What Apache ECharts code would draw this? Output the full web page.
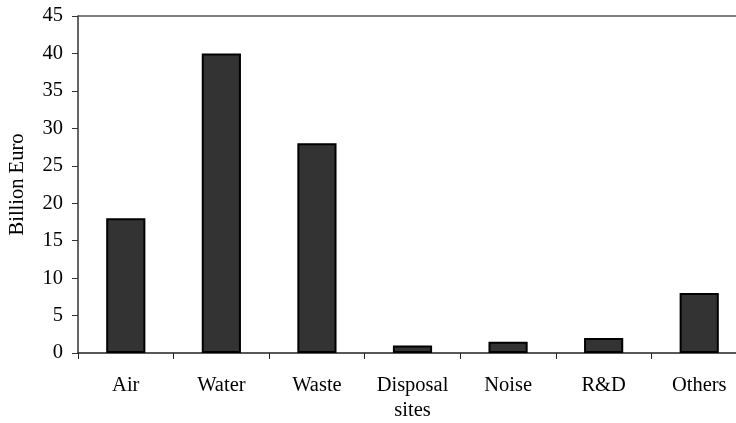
<!DOCTYPE html>
<html>
<head>
<meta charset="utf-8">
<script src="https://cdn.jsdelivr.net/npm/echarts@6/dist/echarts.min.js"></script>
<style>html,body{margin:0;padding:0;background:#fff}#c{width:736px;height:423px}</style>
</head>
<body>
<div id="c"></div>
<script>
var categories = ['Air', 'Water', 'Waste', 'Disposal\nsites', 'Noise', 'R&D', 'Others'];
var values = [18, 40, 28, 1, 1.5, 2, 8];
var yTicks = [0, 5, 10, 15, 20, 25, 30, 35, 40, 45];

var chart = echarts.init(document.getElementById('c'));
var font = 'Liberation Serif, Times New Roman, serif';
var splitColors = yTicks.map(function (v, i) { return i === yTicks.length - 1 ? '#808080' : 'rgba(0,0,0,0)'; });
chart.setOption({
  animation: false,
  grid: { left: 78, top: 16, width: 669, height: 337, containLabel: false, outerBoundsMode: 'none' },
  xAxis: {
    type: 'category',
    data: categories,
    boundaryGap: true,
    axisLine: { lineStyle: { color: '#222', width: 1.5 } },
    axisTick: { show: true, length: 6, alignWithLabel: false, lineStyle: { color: '#222' } },
    axisLabel: { color: '#000', fontFamily: font, fontSize: 20.5, margin: 20, lineHeight: 25, interval: 0 }
  },
  yAxis: {
    type: 'value',
    min: 0, max: 45, interval: 5,
    name: 'Billion Euro',
    nameLocation: 'middle',
    nameGap: 50,
    nameRotate: 90,
    nameTextStyle: { color: '#000', fontFamily: font, fontSize: 20.5 },
    axisLine: { show: true, lineStyle: { color: '#333', width: 1.5 } },
    axisTick: { show: true, length: 6, lineStyle: { color: '#333' } },
    axisLabel: { color: '#000', fontFamily: font, fontSize: 20.5, margin: 15 },
    splitLine: { show: true, lineStyle: { color: splitColors, width: 2 } }
  },
  series: [{
    type: 'bar',
    data: values,
    barWidth: '41%',
    itemStyle: { color: '#333333', borderColor: '#000', borderWidth: 2 }
  }]
});
</script>
</body>
</html>
